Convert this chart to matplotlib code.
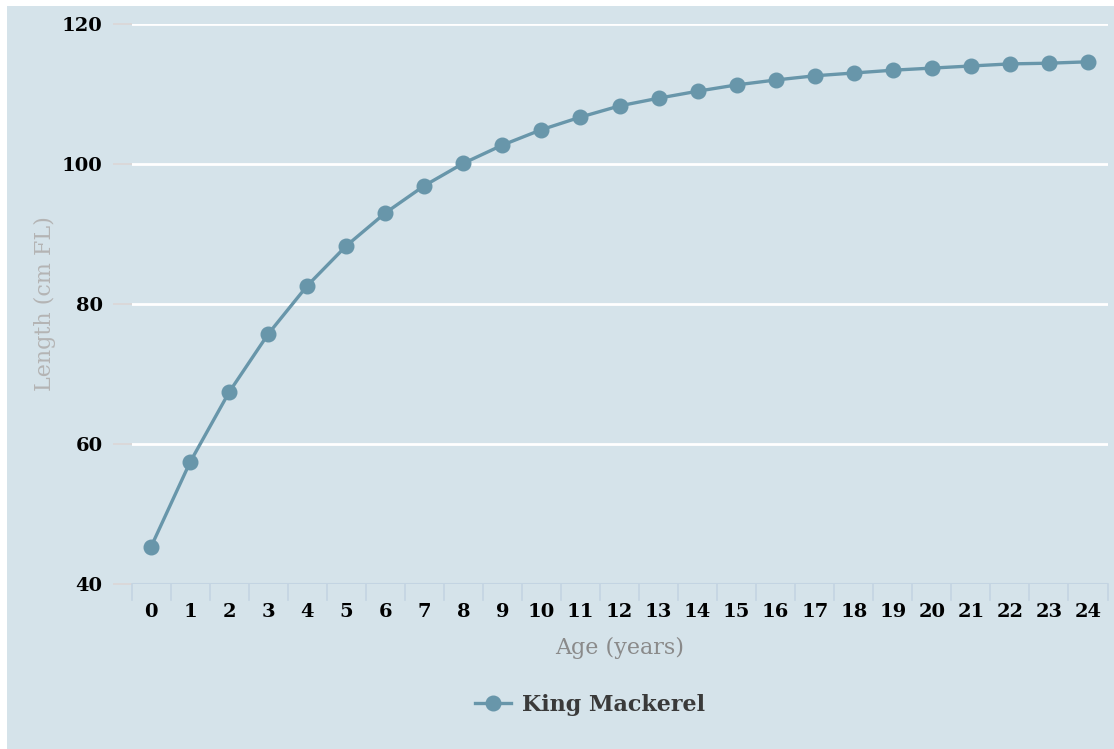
"""King mackerel growth curve: length at age."""

import matplotlib.pyplot as plt
from matplotlib.lines import Line2D
from matplotlib.patches import Rectangle

ages = list(range(25))
lengths = [45.3, 57.4, 67.4, 75.7, 82.6, 88.3, 93.0, 96.9, 100.1, 102.7,
           104.9, 106.7, 108.3, 109.4, 110.4, 111.3, 112.0, 112.6, 113.0,
           113.4, 113.7, 114.0, 114.3, 114.4, 114.6]
y_ticks = [40, 60, 80, 100, 120]
series_name = "King Mackerel"

BG = "#d5e3ea"
LINE = "#6896aa"

W, H = 1114, 749
fig = plt.figure(figsize=(W / 100, H / 100), dpi=100, facecolor="white")
fig.patches.append(Rectangle((7 / W, 0), 1, 1 - 6 / H, transform=fig.transFigure,
                             facecolor=BG, edgecolor="none", zorder=-10))

ax = fig.add_axes([131.5 / W, (H - 584) / H, 976 / W, 560 / H])
ax.patch.set_alpha(0)

for y in y_ticks[1:]:
    ax.axhline(y, color="white", lw=2, zorder=1)
ax.axhline(40, color="#c3d4e2", lw=1.5, zorder=1)

ax.plot(ages, lengths, color=LINE, lw=2.4, marker="o", markersize=10.5,
        zorder=3, clip_on=False)

ax.set_xlim(-0.5, 24.5)
ax.set_ylim(40, 120)
for s in ax.spines.values():
    s.set_visible(False)

# x: labels centred on bands, ticks at band edges
ax.set_xticks(ages)
ax.set_xticklabels([str(a) for a in ages], fontfamily="DejaVu Serif",
                   fontweight="bold", fontsize=14)
ax.tick_params(axis="x", length=0, pad=13.5)
for edge in [a - 0.5 for a in ages] + [24.5]:
    ax.plot([edge, edge], [0, -0.029], transform=ax.get_xaxis_transform(),
            color="#c3d4e2", lw=1.2, clip_on=False)

ax.set_yticks(y_ticks)
ax.set_yticklabels([str(v) for v in y_ticks], fontfamily="DejaVu Serif",
                   fontweight="bold", fontsize=14)
ax.tick_params(axis="y", length=13.7, width=1.2, color="#dcd6d6", pad=7)

ax.set_xlabel("Age (years)", fontfamily="DejaVu Serif", fontsize=16,
              color="#8a8a8a", labelpad=11.5)
ax.set_ylabel("Length (cm FL)", fontfamily="DejaVu Serif", fontsize=16,
              color="#b4b4b4", labelpad=4.5)

handle = Line2D([], [], color=LINE, lw=2.4, marker="o", markersize=10.5)
fig.legend([handle], [series_name], loc="center", bbox_to_anchor=(590 / W, 1 - 705 / H),
           frameon=False, handlelength=1.6, handletextpad=0.5,
           prop={"family": "DejaVu Serif", "weight": "bold", "size": 16})
for t in fig.legends[0].get_texts():
    t.set_color("#3a3a3a")

fig.savefig("out.png", dpi=100)
